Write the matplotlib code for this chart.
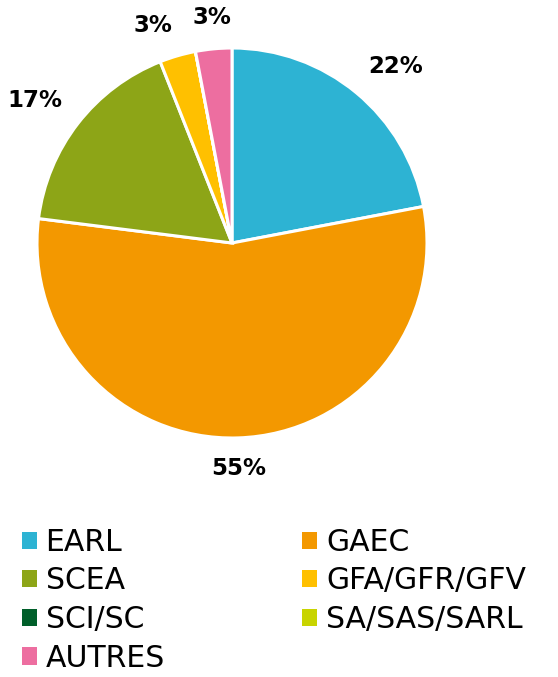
import matplotlib.pyplot as plt
import numpy as np
from matplotlib.patches import Patch

categories = ["EARL", "GAEC", "SCEA", "GFA/GFR/GFV", "SCI/SC", "SA/SAS/SARL", "AUTRES"]
shares = [22, 55, 17, 3, 0, 0, 3]
colours = ["#2DB3D3", "#F39800", "#8DA517", "#FFC000", "#005F2A", "#C8D400", "#ED6EA0"]

W, H = 558, 677
fig = plt.figure(figsize=(W / 100, H / 100), dpi=100)

# pie axes placed in pixel coords: centre (232, 243), radius 195
cx, cy, r = 232, 243, 195
ax = fig.add_axes([(cx - r) / W, (H - cy - r) / H, 2 * r / W, 2 * r / H])
wedges, _ = ax.pie(shares, colors=colours, startangle=90, counterclock=False,
                   radius=1, wedgeprops=dict(edgecolor="white", linewidth=2.2))
ax.set_xlim(-1, 1)
ax.set_ylim(-1, 1)
ax.set_aspect("equal")
ax.axis("off")

# percentage labels just outside the slices, anchored by the side they sit on
for w, v in zip(wedges, shares):
    if v == 0:
        continue
    mid = np.deg2rad((w.theta1 + w.theta2) / 2)
    c, s = np.cos(mid), np.sin(mid)
    ha = "left" if c > 0.25 else ("right" if c < -0.25 else "center")
    va = "bottom" if s > 0.25 else ("top" if s < -0.25 else "center")
    d = 1.1
    ax.text(d * c, d * s, f"{v}%", ha=ha, va=va,
            fontsize=16.5, fontweight="bold", color="black", clip_on=False)

# legend filled row by row like the original: reorder for column-major fill
order = [0, 2, 4, 6, 1, 3, 5]
handles = [Patch(facecolor=colours[i], edgecolor="none") for i in order]
labels = [categories[i] for i in order]
fig.legend(handles, labels, ncol=2, loc="upper left",
           bbox_to_anchor=(0.012, 1 - 513 / H), frameon=False,
           fontsize=21.5, handlelength=0.5, handleheight=0.5, handletextpad=0.3,
           columnspacing=4.6, labelspacing=0.32, borderpad=0)

fig.savefig("out.png", dpi=100)
